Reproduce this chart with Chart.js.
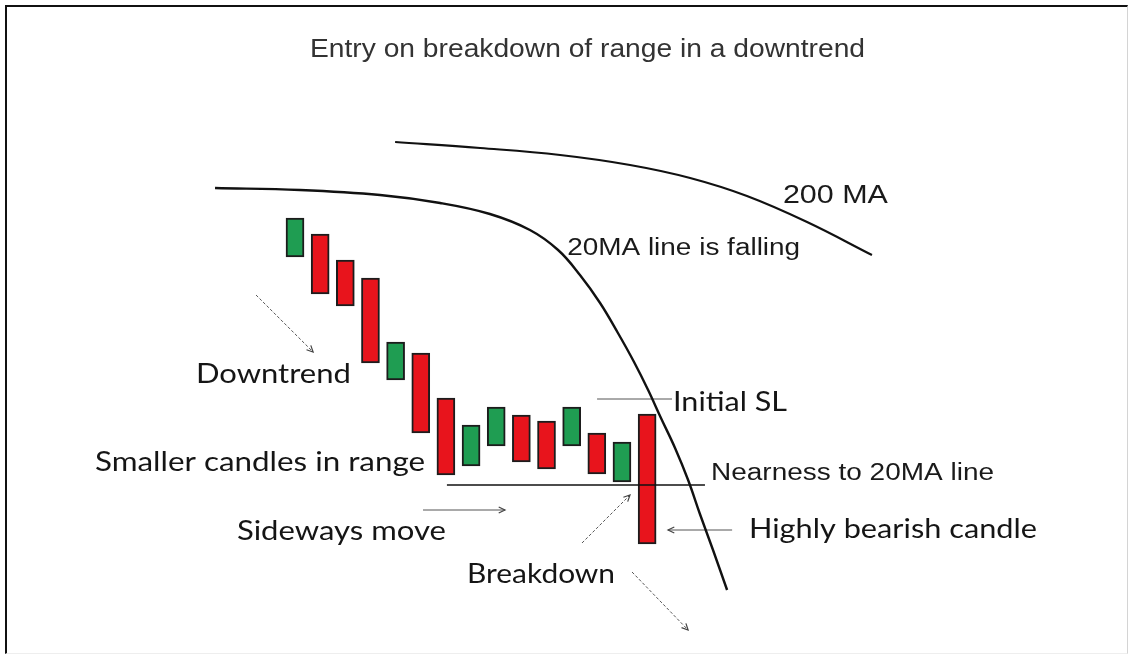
<!DOCTYPE html>
<html>
<head>
<meta charset="utf-8">
<title>Entry on breakdown of range in a downtrend</title>
<script src="https://cdn.jsdelivr.net/npm/chart.js@4.4.1/dist/chart.umd.min.js"></script>
<style>
  body { margin: 0; background: #fff; overflow: hidden; }
  #wrap { position: relative; width: 1130px; height: 656px; }
  #frame {
    position: absolute; left: 5px; top: 5px; right: 2px; bottom: 2px;
    border-top: 2px solid #111; border-left: 2px solid #111;
    border-right: 1px solid #d4d4d4; border-bottom: 1px solid #eee;
    pointer-events: none;
  }
</style>
</head>
<body>
<div id="wrap">
  <canvas id="chart"></canvas>
  <div id="frame"></div>
</div>
<script>
// candles (x = bar index, price units)
const candleX = [0, 1, 2, 3, 4, 5, 6, 7, 8, 9, 10, 11, 12, 13, 14];
const candleOpen  = [145.6, 150.2, 145.0, 141.4, 121.0, 126.4, 117.4, 103.8, 107.8, 114.0, 112.8, 107.8, 110.4, 100.6, 114.2];
const candleClose = [153.4, 138.2, 135.8, 124.4, 128.6, 110.4, 102.0, 112.0, 115.6, 104.6, 103.2, 115.6, 102.2, 108.6, 88.2];

// moving averages
const ma20X = [-3.18, 0.2, 3.38, 5.77, 7.75, 9.34, 10.46, 11.33, 12.13, 12.84, 13.48, 14.04, 14.55, 15.11, 15.63, 16.1, 16.62, 17.18];
const ma20Y = [159.4, 159.0, 158.0, 156.4, 154.2, 151.0, 147.0, 142.0, 136.4, 130.4, 124.6, 119.0, 113.4, 107.4, 101.0, 94.2, 87.0, 79.0];
const ma200X = [3.98, 7.36, 10.54, 13.32, 15.71, 17.97, 20.36, 22.94];
const ma200Y = [168.6, 167.4, 166.0, 164.0, 161.4, 157.8, 152.6, 146.0];

// levels
const slLevel = 117.2;
const slSpan = [12.01, 14.99];
const rangeLow = 100;
const rangeSpan = [6.04, 16.3];

// pointer arrows
const arrowStartX = [-1.55, 5.09, 11.41, 17.38, 13.4];
const arrowStartY = [138.0, 95.0, 88.4, 91.0, 82.6];
const arrowEndX   = [0.72, 8.35, 13.32, 14.83, 15.63];
const arrowEndY   = [126.6, 95.0, 98.0, 91.0, 71.0];
const arrowDashed = [true, false, true, false, true];

// texts
const labelText = [
  'Entry on breakdown of range in a downtrend',
  '200 MA',
  '20MA line is falling',
  'Downtrend',
  'Initial SL',
  'Smaller candles in range',
  'Nearness to 20MA line',
  'Sideways move',
  'Highly bearish candle',
  'Breakdown'
];
const labelX = [11.63, 19.4, 10.82, -3.94, 15.03, -7.95, 16.54, -2.31, 18.05, 6.84];
const labelY = [185.6, 156.4, 146.0, 120.4, 114.8, 102.8, 101.0, 89.0, 89.4, 80.4];

const ARIAL = '"Liberation Sans", Arial, sans-serif';
const CALI = 'Lato, "Open Sans", sans-serif';
const labelStyle = [
  { family: ARIAL, size: 25, width: 555, color: '#333', align: 'center' },
  { family: ARIAL, size: 25, width: 105, color: '#1a1a1a' },
  { family: ARIAL, size: 23, width: 233, color: '#1a1a1a' },
  { family: CALI, size: 27, width: 155, color: '#151515' },
  { family: CALI, size: 27, width: 114, color: '#151515' },
  { family: CALI, size: 27, width: 330, color: '#151515' },
  { family: ARIAL, size: 23, width: 283, color: '#1a1a1a' },
  { family: CALI, size: 27, width: 209, color: '#151515' },
  { family: CALI, size: 27, width: 288, color: '#151515' },
  { family: CALI, size: 26, width: 148, color: '#151515' }
];

const RED = '#e8141c';
const GREEN = '#1f9d52';

function pairs(xs, ys) {
  return xs.map((x, i) => ({ x: x, y: ys[i] }));
}

const datasets = [];

datasets.push({
  type: 'bar',
  data: candleX.map((x, i) => ({ x: x, y: [candleOpen[i], candleClose[i]] })),
  backgroundColor: candleX.map((x, i) => candleClose[i] > candleOpen[i] ? GREEN : RED),
  borderColor: '#1c1c1c',
  borderWidth: 2,
  borderSkipped: false,
  barThickness: 18,
  order: 3
});

datasets.push({
  type: 'line', data: pairs(ma20X, ma20Y),
  borderColor: '#111', borderWidth: 2.4, pointRadius: 0,
  tension: 0.4, order: 1
});
datasets.push({
  type: 'line', data: pairs(ma200X, ma200Y),
  borderColor: '#111', borderWidth: 2.2, pointRadius: 0,
  tension: 0.4, order: 1
});

datasets.push({
  type: 'line', data: [{ x: slSpan[0], y: slLevel }, { x: slSpan[1], y: slLevel }],
  borderColor: '#555', borderWidth: 1, pointRadius: 0, order: 1
});
datasets.push({
  type: 'line', data: [{ x: rangeSpan[0], y: rangeLow }, { x: rangeSpan[1], y: rangeLow }],
  borderColor: '#111', borderWidth: 1.5, pointRadius: 0, order: 1
});

arrowStartX.forEach((x, i) => {
  datasets.push({
    type: 'line',
    data: [{ x: x, y: arrowStartY[i] }, { x: arrowEndX[i], y: arrowEndY[i] }],
    borderColor: '#555', borderWidth: 1,
    borderDash: arrowDashed[i] ? [3, 2] : [],
    pointRadius: 0, order: 1, arrow: true
  });
});

// draws arrow heads on the pointer lines
const arrowHeads = {
  id: 'arrowHeads',
  afterDatasetsDraw(chart) {
    const ctx = chart.ctx;
    chart.data.datasets.forEach((ds, i) => {
      if (!ds.arrow) return;
      const pts = chart.getDatasetMeta(i).data;
      const a = pts[0], b = pts[1];
      const ang = Math.atan2(b.y - a.y, b.x - a.x);
      const len = 7;
      ctx.save();
      ctx.strokeStyle = '#444';
      ctx.lineWidth = 1.2;
      ctx.beginPath();
      ctx.moveTo(b.x - len * Math.cos(ang - 0.45), b.y - len * Math.sin(ang - 0.45));
      ctx.lineTo(b.x, b.y);
      ctx.lineTo(b.x - len * Math.cos(ang + 0.45), b.y - len * Math.sin(ang + 0.45));
      ctx.stroke();
      ctx.restore();
    });
  }
};

// writes the annotations
const textLabels = {
  id: 'textLabels',
  afterDraw(chart) {
    const ctx = chart.ctx;
    const xs = chart.scales.x, ys = chart.scales.y;
    labelText.forEach((t, i) => {
      const st = labelStyle[i];
      const px = xs.getPixelForValue(labelX[i]);
      const py = ys.getPixelForValue(labelY[i]);
      ctx.save();
      ctx.font = st.size + 'px ' + st.family;
      ctx.fillStyle = st.color;
      ctx.textBaseline = 'alphabetic';
      ctx.textAlign = 'left';
      const w = ctx.measureText(t).width;
      const k = st.width / w;
      ctx.translate(st.align === 'center' ? px - st.width / 2 : px, py);
      ctx.scale(k, 1);
      ctx.fillText(t, 0, 0);
      ctx.restore();
    });
  }
};

new Chart(document.getElementById('chart'), {
  type: 'bar',
  data: { datasets: datasets },
  options: {
    responsive: true,
    maintainAspectRatio: false,
    animation: false,
    layout: { padding: 0 },
    plugins: { legend: { display: false }, tooltip: { enabled: false } },
    scales: {
      x: { type: 'linear', min: -11.73, max: 33.2, offset: false, display: false, grid: { offset: false } },
      y: { min: 65.8, max: 197, display: false }
    }
  },
  plugins: [arrowHeads, textLabels]
});
</script>
</body>
</html>
